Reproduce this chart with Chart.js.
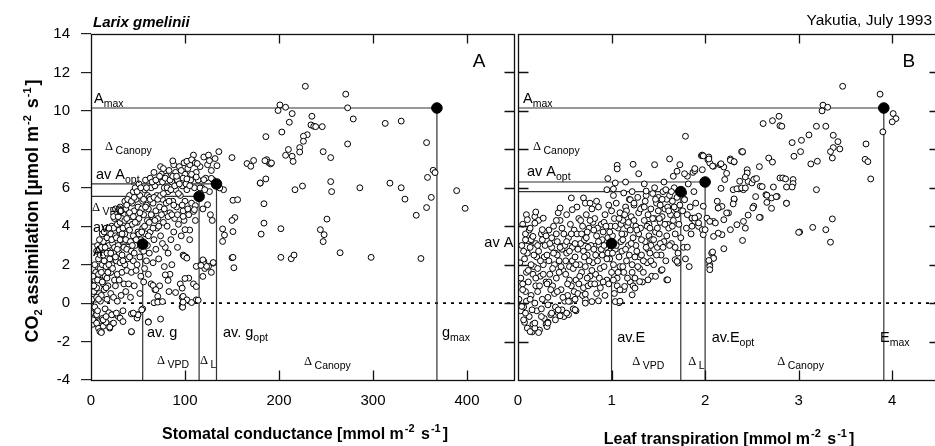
<!DOCTYPE html>
<html>
<head>
<meta charset="utf-8">
<script src="https://cdn.jsdelivr.net/npm/chart.js@4"></script>
<style>
  body { margin: 0; width: 935px; height: 446px; overflow: hidden; background: #fff; position: relative;
         font-family: "Liberation Sans", Arial, sans-serif; color: #000; }
  canvas { position: absolute; top: 0; }
  #cA { left: 0; }
  #cB { left: 470px; }
  .t { position: absolute; white-space: nowrap; line-height: 20px; }
  .t sup, .t sub { font-size: 11px; position: relative; vertical-align: baseline; line-height: 0; }
  .t sup { top: -7px; margin: 0 2px 0 1px; }
  .t sub { top: 4px; }
</style>
</head>
<body>
<canvas id="cA" width="540" height="446"></canvas>
<canvas id="cB" width="480" height="446"></canvas>

<div class="t" style="left:93px;top:12px;font-size:15px;font-weight:bold;font-style:italic;">Larix gmelinii</div>
<div class="t" style="right:3px;top:10px;font-size:15.5px;">Yakutia, July 1993</div>
<div class="t" style="left:305px;top:424px;font-size:16px;font-weight:bold;transform:translateX(-50%);">Stomatal conductance [mmol m<sup>-2</sup> s<sup>-1</sup>]</div>
<div class="t" style="left:729px;top:429px;font-size:16px;font-weight:bold;transform:translateX(-50%);">Leaf transpiration [mmol m<sup>-2</sup> s<sup>-1</sup>]</div>
<div class="t" style="left:-138px;top:201px;width:340px;text-align:center;font-size:18px;font-weight:bold;transform:rotate(-90deg);">CO<sub>2</sub> assimilation [µmol m<sup>-2</sup> s<sup>-1</sup>]</div>

<script>
// axis ticks
const condTicks = [0, 100, 200, 300, 400];
const transTicks = [0, 1, 2, 3, 4];
const assimTicks = [-4, -2, 0, 2, 4, 6, 8, 10, 12, 14];

// Panel A: stomatal conductance (mmol m-2 s-1) vs CO2 assimilation
const stomatalPts = [
  [0,0.1],[1,-0.3],[2,0.4],[3,-0.8],[1,0.9],[4,1.2],[2,-1.1],[5,0.2],[3,0.6],[0,-0.5],[4,-0.2],[5,1.6],[2,1.4],[6,-0.6],[1,0.2],
  [6,0.8],[7,1.9],[8,-1.3],[7,-0.4],[9,0.5],[8,2.3],[9,1.2],[6,2.7],[10,-0.9],[10,0.1],[8,1.5],[7,3.0],[9,2.8],[10,1.8],
  [11,-1.5],[12,-0.8],[11,0.4],[13,1.0],[12,2.0],[14,2.6],[13,3.2],[11,2.9],[15,-0.3],[14,0.7],[15,1.4],[12,3.6],[14,2.2],[13,-1.2],
  [16,-1.0],[17,0.2],[16,1.9],[18,2.7],[17,3.4],[19,3.0],[18,0.9],[20,1.6],[19,-0.5],[16,3.9],[20,2.3],[18,3.7],[17,1.3],[20,-1.3],
  [21,0.5],[22,2.0],[23,3.1],[21,3.6],[24,2.6],[22,4.0],[25,1.2],[23,-0.6],[24,3.9],[25,2.9],[21,1.6],[22,-1.1],[24,0.3],[25,4.4],
  [26,3.5],[27,2.2],[28,4.1],[26,0.9],[29,3.0],[27,4.6],[30,2.6],[28,1.5],[30,3.8],[29,-0.7],[26,4.9],[28,0.1],[30,1.2],
  [31,4.2],[32,3.3],[33,2.5],[31,5.0],[34,3.9],[35,4.6],[33,1.6],[32,0.4],[34,-0.4],[35,2.9],[31,2.1],[33,4.4],[35,1.0],
  [36,3.6],[37,4.9],[38,2.8],[39,4.0],[36,5.3],[40,3.2],[38,1.7],[37,0.6],[40,4.6],[39,2.3],[38,5.1],[40,1.0],[36,2.0],
  [41,3.8],[42,4.5],[43,2.7],[44,5.2],[41,5.6],[45,3.5],[43,1.6],[42,0.3],[44,4.1],[45,2.2],[41,2.4],[45,5.8],[43,-1.5],
  [46,4.8],[47,3.0],[48,5.4],[49,4.2],[46,2.6],[50,3.7],[48,1.7],[47,6.0],[50,5.0],[49,2.0],[46,0.9],[50,-0.6],
  [51,4.4],[52,5.6],[53,3.3],[54,4.9],[52,2.4],[55,5.3],[51,6.2],[53,1.4],[55,3.9],[54,2.8],[52,0.5],[55,-0.3],
  [56,4.6],[57,5.9],[58,3.6],[59,5.1],[56,2.7],[60,4.3],[58,6.4],[57,1.8],[60,5.6],[59,2.2],[56,1.1],[60,3.0],
  [61,4.9],[62,5.5],[63,3.7],[64,6.0],[62,2.6],[65,4.5],[63,6.5],[61,1.5],[66,5.2],[67,3.3],[68,6.1],[69,4.8],[70,5.6],[66,2.1],[68,0.7],[70,3.9],[67,6.8],[64,1.0],[69,2.8],
  [71,4.4],[72,6.3],[73,5.0],[74,3.5],[75,6.7],[76,5.4],[77,4.2],[78,6.0],[79,2.9],[80,5.2],[72,2.3],[74,7.1],[76,3.1],[78,1.9],[80,6.6],[73,0.9],[77,7.0],[79,4.7],
  [81,4.0],[82,5.8],[83,6.9],[84,4.7],[85,3.3],[86,6.3],[87,5.3],[88,7.2],[89,4.4],[90,5.9],[82,2.6],[84,1.5],[86,2.0],[88,3.7],[90,6.8],[83,0.6],[87,7.4],
  [91,5.0],[92,6.4],[93,4.1],[94,7.1],[95,5.6],[96,3.5],[97,6.1],[98,4.8],[99,7.3],[100,5.3],[92,2.9],[95,1.0],[98,2.5],[100,6.7],[97,0.3],
  [102,5.9],[103,7.0],[104,4.6],[106,6.4],[107,5.2],[108,7.4],[110,6.0],[111,4.3],[112,6.8],[105,3.8],[113,5.6],[109,7.7],[114,6.4],
  [116,7.1],[118,6.0],[120,7.6],[122,6.5],[119,4.9],[124,7.2],[126,5.8],[128,6.9],[125,7.7],[117,2.0],[121,1.8],[128,1.6],[130,6.4],[127,4.6],
  [3,0.9],[4,2.0],[6,0.3],[7,1.2],[8,0.2],[9,3.3],[10,2.5],[11,1.6],[12,1.1],[13,2.5],[14,3.7],[15,2.9],[16,0.8],[17,2.6],[18,1.6],[19,3.9],[19,2.0],
  [21,2.6],[22,3.3],[23,1.8],[24,4.5],[26,2.4],[27,3.4],[28,2.8],[29,4.5],[30,4.9],[31,3.3],[32,4.8],[33,3.6],[34,2.2],[36,4.3],[37,3.3],[38,4.4],
  [39,5.4],[41,4.7],[42,3.2],[43,5.3],[44,3.0],[45,4.5],[46,5.5],[47,4.2],[48,3.3],[49,5.8],[51,3.6],[52,4.7],[53,6.0],[54,3.7],[56,5.4],[57,4.0],
  [58,5.0],[59,6.0],[61,3.5],[62,4.2],[63,5.4],[64,4.6],[65,6.3],[66,3.9],[67,5.5],[68,4.3],[69,6.4],[71,5.4],[72,4.0],[73,6.6],[74,5.6],[75,4.6],
  [76,6.3],[77,5.7],[78,4.9],[79,6.5],[81,6.0],[82,4.5],[83,5.3],[84,6.4],[85,5.9],[86,4.6],[87,6.6],[88,5.1],[89,6.1],[91,6.6],[92,4.6],[93,5.7],
  [94,6.2],[96,6.9],[97,5.1],[98,6.5],[99,4.3],[101,6.2],[103,4.9],[105,7.2],[107,6.7],
  [102,7.38],[107,7.46],[111,7.29],[113,7.26],[126,7.41],[132,7.52],[136,7.88],[134,7.15],[128,6.49],[120,6.42],[112,6.56],[102,6.46],
  [105,6.11],[116,5.99],[121,5.9],[141,5.9],[124,5.12],[109,4.77],[98,4.51],[105,3.3],[100,3.82],[120,2.17],[125,1.91],[130,2.08],
  [112,1.91],[119,1.39],[109,1.0],[104,1.3],[97,0.78],[98,0.35],[102,0.17],[112,0.17],[97,-0.17],
  [111,5.07],[110,4.86],[101,2.4],[99,2.44],[102,2.34],[119,2.25],[121,2.0],[123,1.91],[117,1.96],[130,2.11],[100,1.28],[112,0.86],
  [107,0.03],[114,0.15],[97,-0.2],[90,0.55],[79,1.47],[82,1.18],[66,0.92],[69,0.7],[71,0.35],[72,0.09],[61,-0.97],[49,-0.64],[43,-0.56],
  [43,-1.48],[61,-0.99],[74,-0.83],[97.5,-0.21],[49,-0.78],[50,-0.61],[54,-0.35],[45,-0.52],[9.5,-1.48],[11,-1.53],[20,-1.25],[24,-1.04],
  [2,-0.87],[6,-1.04],[13,-0.87],[16,-0.7],[22,-0.61],[27,-0.52],[31,-0.78],[34,-0.96],[67,0.02],[71,0.05],[76,0.08],[98,0.05],
  [228,11.28],[271,10.87],[273,10.16],[201,10.31],[199,10.02],[207,10.19],[214,9.86],[211,9.41],[235,9.72],[234,9.27],[237,9.2],[239,9.18],
  [246,9.18],[279,9.58],[313,9.35],[330,9.47],[186,8.66],[203,8.9],[230,8.76],[226,8.68],[226,8.42],[222,8.09],[222,7.86],[210,7.99],
  [207,7.69],[214,7.64],[215,7.37],[247,7.88],[255,7.57],[273,8.28],[357,8.35],[364,6.91],[366,6.79],[358,6.54],[362,5.5],[357,4.97],
  [346,4.57],[389,5.85],[398,4.93],[318,6.24],[330,6.0],[334,5.41],[286,6.0],[256,5.8],[255,6.32],[251,4.37],[225,6.09],[217,5.9],
  [180,6.24],[186,6.46],[184,4.16],[181,3.59],[202,3.87],[202,2.38],[213,2.31],[216,2.5],[244,3.82],[248,3.56],[247,3.2],[265,2.62],
  [298,2.38],[351,2.32],[150,7.57],[166,7.26],[170,7.12],[173,7.42],[187,7.46],[189,7.31],[191,7.24],[151,5.35],[156,5.38],[153,4.45],
  [150,4.3],[140,3.86],[142,3.54],[140,3.21],[151,3.72],[152,1.84],[150,2.36],[129,4.3],[137,5.99],[184,5.17],[185,7.41],[192,7.29],
  [180,6.25],[151,2.38]
];

// Panel B: leaf transpiration (mmol m-2 s-1) vs CO2 assimilation
const transpPts = [
  [0.01,0.2],[0.03,-0.4],[0.05,1.0],[0.02,2.1],[0.07,-1.0],[0.08,0.6],[0.04,3.0],[0.09,1.6],[0.06,-0.2],[0.1,2.6],[0.08,3.6],[0.03,1.3],[0.1,-1.3],[0.05,4.1],[0.09,0.1],[0.07,2.3],
  [0.11,1.1],[0.12,-0.7],[0.13,2.9],[0.14,0.4],[0.15,3.4],[0.16,-1.1],[0.17,1.9],[0.18,4.5],[0.19,0.9],[0.2,2.4],[0.12,3.8],[0.15,-1.5],[0.18,0.0],[0.14,2.0],[0.2,-0.4],[0.16,1.5],[0.19,3.1],
  [0.21,0.6],[0.22,2.7],[0.23,-1.4],[0.24,1.4],[0.25,3.6],[0.26,0.2],[0.27,2.0],[0.28,-0.8],[0.29,3.0],[0.3,1.1],[0.22,4.3],[0.25,-0.3],[0.28,2.4],[0.21,1.8],[0.3,-1.1],[0.26,3.3],
  [0.31,2.5],[0.32,0.3],[0.33,3.8],[0.34,1.5],[0.35,-0.6],[0.36,2.9],[0.37,0.9],[0.38,4.0],[0.39,2.0],[0.4,-0.2],[0.33,1.1],[0.36,3.4],[0.39,0.5],[0.32,-1.0],[0.4,2.6],
  [0.41,1.3],[0.42,3.2],[0.43,-0.5],[0.44,2.2],[0.45,4.3],[0.46,0.7],[0.47,2.8],[0.48,1.7],[0.49,3.6],[0.5,0.1],[0.43,4.7],[0.46,1.9],[0.49,-0.7],[0.42,2.5],[0.5,3.0],
  [0.51,1.5],[0.52,2.6],[0.53,0.4],[0.54,3.4],[0.55,1.9],[0.56,4.1],[0.57,0.9],[0.58,2.9],[0.59,-0.3],[0.6,3.8],[0.52,4.6],[0.55,1.2],[0.58,2.2],[0.6,0.6],[0.54,-0.6],
  [0.61,2.4],[0.62,1.2],[0.63,3.6],[0.64,0.5],[0.65,4.4],[0.66,2.0],[0.67,3.1],[0.68,1.6],[0.69,4.0],[0.7,2.7],[0.62,-0.4],[0.65,1.0],[0.68,3.6],[0.7,0.8],[0.63,5.0],
  [0.71,3.3],[0.72,1.9],[0.73,4.6],[0.74,2.5],[0.75,0.9],[0.76,3.9],[0.77,1.4],[0.78,3.0],[0.79,4.9],[0.8,2.1],[0.72,0.2],[0.75,2.9],[0.78,1.0],[0.8,4.2],[0.74,3.7],
  [0.81,2.8],[0.82,4.4],[0.83,1.5],[0.84,3.5],[0.85,2.2],[0.86,5.0],[0.87,3.0],[0.88,0.8],[0.89,4.1],[0.9,2.5],[0.82,1.0],[0.85,3.9],[0.88,1.8],[0.9,3.3],[0.84,5.3],
  [0.91,3.7],[0.92,1.9],[0.93,4.6],[0.94,2.9],[0.95,1.2],[0.96,3.4],[0.97,5.1],[0.98,2.3],[0.99,4.0],[1.0,1.6],[0.93,0.4],[0.96,2.6],[0.99,3.0],[0.92,4.2],[1.0,4.8],
  [1.01,3.5],[1.02,2.0],[1.03,4.4],[1.04,2.8],[1.05,5.2],[1.06,1.3],[1.07,3.9],[1.08,2.4],[1.09,4.7],[1.1,3.2],[1.03,0.5],[1.06,0.9],[1.09,1.9],[1.02,5.6],[1.1,4.1],
  [1.11,2.7],[1.12,4.3],[1.13,1.6],[1.14,3.6],[1.15,5.0],[1.16,2.2],[1.17,4.0],[1.18,3.0],[1.19,5.4],[1.2,1.1],[1.13,0.7],[1.16,4.8],[1.19,2.5],[1.12,3.3],[1.2,3.8],
  [1.21,4.5],[1.22,2.0],[1.23,3.4],[1.24,5.1],[1.25,1.3],[1.26,4.0],[1.27,2.7],[1.28,5.5],[1.29,3.6],[1.3,1.8],[1.23,0.9],[1.26,3.0],[1.29,4.7],[1.22,5.8],[1.3,2.4],
  [1.31,3.9],[1.32,2.5],[1.33,5.0],[1.34,1.6],[1.35,4.3],[1.36,3.2],[1.37,5.6],[1.38,2.1],[1.39,4.6],[1.4,3.5],[1.33,1.1],[1.36,5.3],[1.39,2.8],[1.35,6.2],[1.4,4.1],
  [1.41,2.6],[1.42,4.9],[1.43,3.3],[1.44,5.7],[1.45,2.0],[1.46,4.4],[1.47,3.7],[1.48,5.2],[1.49,2.9],[1.5,4.8],[1.43,1.4],[1.46,6.0],[1.49,3.9],[1.42,3.0],[1.5,5.5],
  [1.51,3.6],[1.52,5.1],[1.53,2.5],[1.54,4.5],[1.55,5.8],[1.56,3.2],[1.57,4.9],[1.58,2.2],[1.59,5.4],[1.6,4.1],[1.53,1.7],[1.56,6.3],[1.59,3.5],[1.52,4.2],[1.6,5.0],
  [1.61,3.9],[1.62,5.6],[1.63,4.6],[1.64,3.1],[1.65,5.3],[1.66,4.3],[1.67,6.0],[1.68,3.6],[1.69,4.9],[1.7,5.5],[1.72,4.1],[1.73,5.1],[1.71,2.6],[1.74,3.4],[1.66,6.6],[1.7,4.6],
  [1.76,4.8],[1.78,5.4],[1.8,3.9],[1.82,6.2],[1.84,5.0],[1.86,4.4],[1.88,5.8],[1.77,2.9],[1.79,2.3],[1.81,6.6],[1.85,3.6],[1.9,5.2],[1.87,6.8],[1.83,1.9],
  [0.05,0.7],[0.06,2.7],[0.11,1.7],[0.13,0.2],[0.14,3.3],[0.17,2.5],[0.19,1.3],[0.21,3.0],[0.23,0.9],[0.24,2.2],[0.27,1.5],[0.28,3.7],[0.31,1.0],
  [0.33,2.2],[0.34,3.1],[0.35,0.7],[0.37,1.8],[0.38,2.6],[0.41,3.6],[0.42,0.6],[0.44,1.6],[0.45,2.9],[0.47,3.9],[0.48,0.3],[0.51,2.2],[0.52,3.2],
  [0.53,1.0],[0.55,2.7],[0.56,0.1],[0.57,3.6],[0.59,1.8],[0.61,3.1],[0.62,2.0],[0.64,2.8],[0.66,1.4],[0.67,4.3],[0.69,0.4],[0.71,2.4],[0.73,3.4],
  [0.74,1.3],[0.76,2.2],[0.77,4.3],[0.79,1.7],[0.81,3.8],[0.83,2.5],[0.84,0.5],[0.86,3.2],[0.87,1.3],[0.89,2.8],[0.91,1.1],[0.92,3.0],[0.94,4.0],
  [0.95,2.3],[0.97,1.0],[0.98,3.7],[1.01,2.6],[1.02,1.2],[1.04,4.0],[1.05,3.0],[1.07,1.6],[1.08,4.4],[1.11,3.6],[1.12,1.9],[1.14,4.6],[1.15,2.8],
  [1.17,1.3],[1.18,4.2],[1.21,3.1],[1.22,1.6],[1.24,4.3],[1.25,2.4],[1.27,3.8],[1.28,1.9],[1.31,4.9],[1.32,3.3],[1.34,2.2],[1.35,5.0],[1.37,2.9],
  [1.38,4.0],[1.41,3.9],[1.42,2.2],[1.44,4.4],[1.45,3.3],[1.47,5.4],[1.48,2.5],[1.51,4.4],[1.52,3.1],[1.54,5.4],[1.55,2.9],[1.57,4.1],[1.58,5.9],
  [1.61,4.8],[1.62,3.0],[1.64,5.8],[1.65,4.0],[1.67,5.0],[1.68,2.9],
  [0.13,-1.48],[0.22,-1.53],[0.18,-1.3],[0.31,-1.22],[0.32,-1.04],[0.4,-0.87],[0.45,-0.66],[0.52,-0.52],[0.61,-0.35],[0.06,-0.87],[0.08,-0.52],
  [0.04,-0.17],[0.15,-0.35],[0.25,-0.7],[0.36,-0.52],[0.47,-0.35],[0.72,0.0],[0.79,0.08],[0.86,0.12],[1.08,0.02],
  [1.04,0.08],[1.09,0.1],[1.22,0.43],[1.25,0.78],[1.3,1.12],[1.39,1.21],[1.47,1.39],[1.54,1.74],[1.59,1.21],[1.68,2.26],[1.71,2.08],[1.09,0.69],
  [1.14,0.87],[0.61,0.2],[0.72,0.47],[0.43,-0.35],[0.32,-0.09],[0.54,0.09],[0.18,-1.04],
  [1.06,7.17],[1.06,6.98],[1.23,7.22],[1.46,7.2],[1.62,7.5],[1.73,7.2],[1.78,6.73],[1.7,6.86],[1.96,7.67],[2.03,7.46],[2.05,7.29],[2.09,7.12],
  [2.16,7.2],[2.2,7.08],[2.28,7.41],[2.31,7.34],[2.4,7.86],[1.97,6.94],[1.89,6.89],[1.29,6.73],[1.15,6.3],[1.04,6.25],[0.96,6.48],[0.95,5.9],
  [1.02,5.94],[1.13,5.73],[1.2,5.38],[1.24,5.2],[1.37,5.83],[0.57,5.47],[0.7,5.47],[0.72,5.2],[0.77,5.2],[0.45,4.95],[0.58,4.86],[0.41,4.3],
  [0.27,4.42],[0.19,4.74],[0.09,4.6],[0.1,4.34],[0.18,4.16],[0.26,3.82],[0.13,3.9],[0.08,3.29],[0.3,3.5],[0.16,3.47],
  [1.77,5.73],[1.78,5.38],[1.81,4.6],[1.86,4.42],[1.89,4.25],[1.93,3.99],[1.97,3.82],[2.02,4.42],[2.09,4.25],[2.14,4.95],[2.18,5.03],[2.25,4.69],
  [2.31,5.38],[2.36,5.94],[2.41,5.9],[2.46,6.33],[2.5,6.25],[2.53,6.46],[2.59,6.08],[2.65,5.64],[2.71,5.47],[2.77,5.55],[2.87,5.2],[1.81,2.91],
  [1.7,2.17],[1.6,1.21],[2.07,2.6],[2.05,2.0],[2.09,2.34],[3.01,3.7],[1.79,8.68],[1.97,7.7],[2.04,7.6],[2.39,7.88],[2.27,7.5],
  [1.89,7.0],[1.98,7.66],[2.04,7.5],[2.08,7.13],[2.17,7.25],[2.27,7.43],[2.31,7.36],[2.23,6.75],[2.21,6.43],[2.17,5.97],[2.3,5.9],[2.34,5.95],
  [2.39,5.99],[2.43,5.99],[2.45,6.94],[2.45,6.77],[2.52,6.43],[2.55,6.48],[2.43,6.56],[2.37,6.34],[2.31,5.42],[2.3,5.16],[2.23,4.69],[2.14,4.95],
  [2.13,5.3],[1.98,5.04],[1.93,4.52],[1.89,4.43],[1.86,4.0],[2.05,4.25],[2.11,4.17],[2.2,4.34],[2.27,3.82],[2.34,4.08],[2.41,4.25],[2.43,3.9],
  [2.52,5.04],[2.59,4.46],[2.18,3.56],[2.14,3.64],[2.09,3.47],[1.98,3.56],[2.0,3.82],[1.93,4.17],
  [3.47,11.28],[3.87,10.87],[3.26,10.3],[3.25,10.0],[3.31,10.19],[4.01,9.86],[4.04,9.6],[4.0,9.43],[3.9,8.91],[2.62,9.34],[2.72,9.49],[2.79,9.72],
  [2.8,9.23],[2.82,9.2],[3.19,9.2],[3.29,9.2],[3.11,8.75],[3.03,8.47],[2.93,8.35],[3.37,8.73],[3.42,8.4],[3.44,8.02],[3.37,8.09],[3.34,7.88],
  [3.36,7.55],[3.02,7.88],[2.95,7.64],[3.13,7.24],[3.2,7.38],[3.72,8.28],[3.71,7.48],[3.74,7.36],[3.77,6.46],[2.4,7.88],[2.68,7.55],[2.72,7.34],
  [2.58,7.1],[3.19,5.9],[2.87,5.19],[3.0,3.68],[3.15,3.94],[3.29,3.82],[3.36,4.38],[3.34,3.17],
  [2.8,6.51],[2.83,6.51],[2.86,6.46],[2.94,6.43],[2.94,6.22],[2.93,6.04],[2.87,6.04],[2.76,5.54],[2.66,5.61],[2.71,4.93],[2.66,5.24],[2.58,4.46],
  [2.54,5.54],[2.73,6.04],[2.61,6.06],[2.51,4.95],[2.46,4.58],[2.4,3.26],[2.2,2.83],[2.08,2.66],[2.09,2.33],[2.04,2.22],[2.05,1.91],[2.05,1.74]
];

// filled reference points and their guide lines
const markersA = [[55,3.07],[115,5.55],[133.5,6.2],[368,10.15]];
const markersB = [[1.0,3.1],[1.74,5.8],[2.0,6.3],[3.91,10.15]];
const guidesA = [
  [[0,10.15],[368,10.15],[368,-4]],
  [[0,6.2],[133.5,6.2],[133.5,-4]],
  [[0,5.55],[115,5.55],[115,-4]],
  [[0,3.07],[55,3.07],[55,-4]]
];
const guidesB = [
  [[0,10.15],[3.91,10.15],[3.91,-4]],
  [[0,6.3],[2.0,6.3],[2.0,-4]],
  [[0,5.8],[1.74,5.8],[1.74,-4]],
  [[0,3.1],[1.0,3.1],[1.0,-4]]
];

// annotation texts (main text + subscript), anchored in data coordinates
const notesA = [
  { x: 3.2,   y: 10.4,  t: 'A', s: 'max' },
  { x: 14.9,  y: 7.98,  t: 'Δ', s: 'Canopy', greek: true },
  { x: 5.3,   y: 6.46,  t: 'av A', s: 'opt' },
  { x: 1.0,   y: 4.77,  t: 'Δ', s: 'VPD', greek: true },
  { x: 2.0,   y: 3.71,  t: 'av', s: '' },
  { x: 2.0,   y: 2.45,  t: 'A', s: '' },
  { x: 59.6,  y: -1.75, t: 'av. g', s: '' },
  { x: 70.2,  y: -3.17, t: 'Δ', s: 'VPD', greek: true },
  { x: 116,   y: -3.17, t: 'Δ', s: 'L', greek: true },
  { x: 140.4, y: -1.75, t: 'av. g', s: 'opt' },
  { x: 226.6, y: -3.2,  t: 'Δ', s: 'Canopy', greek: true },
  { x: 373.4, y: -1.75, t: 'g', s: 'max' },
  { x: 406,   y: 12.3,  t: 'A', s: '', big: true }
];
const notesB = [
  { x: 0.053, y: 10.4,  t: 'A', s: 'max' },
  { x: 0.16,  y: 7.98,  t: 'Δ', s: 'Canopy', greek: true },
  { x: 0.096, y: 6.61,  t: 'av A', s: 'opt' },
  { x: -0.36, y: 2.9,   t: 'av A', s: '' },
  { x: 1.06,  y: -2.0,  t: 'av.E', s: '' },
  { x: 1.22,  y: -3.2,  t: 'Δ', s: 'VPD', greek: true },
  { x: 1.82,  y: -3.2,  t: 'Δ', s: 'L', greek: true },
  { x: 2.07,  y: -2.0,  t: 'av.E', s: 'opt' },
  { x: 2.77,  y: -3.2,  t: 'Δ', s: 'Canopy', greek: true },
  { x: 3.87,  y: -2.0,  t: 'E', s: 'max' },
  { x: 4.11,  y: 12.3,  t: 'B', s: '', big: true }
];

const SANS = "'Liberation Sans', Arial, sans-serif";
const SERIF = "'Liberation Serif', 'Times New Roman', serif";

const toXY = arr => arr.map(p => ({ x: p[0], y: p[1] }));

// frame with inward tick marks
const framePlugin = {
  id: 'frame',
  afterDatasetsDraw(chart, args, opts) {
    const { ctx, chartArea: a } = chart;
    const xs = chart.scales.x, ys = chart.scales.y;
    const L = Math.round(a.left) + 0.5, R = Math.round(a.right) + 0.5;
    const T = Math.round(a.top) + 0.5, B = Math.round(a.bottom) + 0.5;
    ctx.save();
    ctx.strokeStyle = '#111';
    ctx.lineWidth = 1.3;
    ctx.strokeRect(L, T, R - L, B - T);
    ctx.beginPath();
    opts.xTicks.forEach(v => {
      const px = Math.round(xs.getPixelForValue(v)) + 0.5;
      if (px < L + 2 || px > R - 2) return;
      ctx.moveTo(px, B); ctx.lineTo(px, B - 10);
      ctx.moveTo(px, T); ctx.lineTo(px, T + 9);
    });
    assimTicks.forEach(v => {
      const py = Math.round(ys.getPixelForValue(v)) + 0.5;
      if (py < T + 2 || py > B - 2) return;
      if (opts.leftInside) { ctx.moveTo(L, py); ctx.lineTo(L + 10, py); }
      ctx.moveTo(R, py); ctx.lineTo(R - 10, py);
    });
    ctx.stroke();
    ctx.restore();
  }
};

const notePlugin = {
  id: 'notes',
  afterDraw(chart, args, opts) {
    const { ctx } = chart;
    const xs = chart.scales.x, ys = chart.scales.y;
    ctx.save();
    ctx.fillStyle = '#000';
    ctx.textBaseline = 'alphabetic';
    ctx.textAlign = 'left';
    opts.items.forEach(n => {
      let px = xs.getPixelForValue(n.x);
      const py = ys.getPixelForValue(n.y);
      ctx.font = n.big ? `19px ${SANS}` : (n.greek ? `12.5px ${SERIF}` : `14.5px ${SANS}`);
      ctx.fillText(n.t, px, py);
      px += ctx.measureText(n.t).width + (n.greek ? 2.5 : 0);
      if (n.s) {
        ctx.font = `10.5px ${SANS}`;
        ctx.fillText(n.s, px, py + 4);
      }
    });
    ctx.restore();
  }
};

function makePanel(id, o) {
  const datasets = [
    { type: 'scatter', data: toXY(o.markers), pointRadius: 5.3, pointBackgroundColor: '#000',
      pointBorderColor: '#000', pointBorderWidth: 1, order: 0 },
    { type: 'scatter', data: toXY(o.points), pointRadius: 2.95, pointBorderWidth: 1,
      pointBackgroundColor: '#fff', pointBorderColor: '#000', order: 1 }
  ];
  o.guides.forEach(g => datasets.push({
    type: 'line', data: toXY(g), borderColor: '#333', borderWidth: 1.2,
    pointRadius: 0, fill: false, tension: 0, order: 2
  }));
  datasets.push({
    type: 'line', data: toXY([[o.xMin, 0], [o.xMax, 0]]), borderColor: '#000', borderWidth: 1.6,
    borderDash: [3, 5], pointRadius: 0, fill: false, order: 3
  });

  return new Chart(document.getElementById(id), {
    type: 'scatter',
    data: { datasets },
    options: {
      responsive: false,
      animation: false,
      events: [],
      layout: { padding: o.padding },
      plugins: {
        legend: { display: false },
        tooltip: { enabled: false },
        frame: { xTicks: o.xTicks, leftInside: o.leftInside },
        notes: { items: o.notes }
      },
      scales: {
        x: {
          type: 'linear', min: o.xMin, max: o.xMax,
          afterBuildTicks: s => { s.ticks = o.xTicks.map(v => ({ value: v })); },
          afterFit: s => { s.height = 66; },
          grid: { display: false, drawTicks: false },
          border: { display: false },
          ticks: { padding: 12, color: '#000', font: { family: SANS, size: 15 } }
        },
        y: {
          type: 'linear', min: -4, max: 14, display: o.showY,
          afterBuildTicks: s => { s.ticks = assimTicks.map(v => ({ value: v })); },
          afterFit: s => { s.width = o.showY ? 91 : 0; },
          grid: { drawOnChartArea: false, drawTicks: true, tickLength: 10, color: '#222', lineWidth: 1.2 },
          border: { display: false },
          ticks: { padding: 11, color: '#000', font: { family: SANS, size: 15 } }
        }
      }
    },
    plugins: [framePlugin, notePlugin]
  });
}

makePanel('cA', {
  points: stomatalPts, markers: markersA, guides: guidesA, notes: notesA,
  xMin: 0, xMax: 450, xTicks: condTicks, showY: true, leftInside: false,
  padding: { top: 34, right: 26, left: 0, bottom: 0 }
});
makePanel('cB', {
  points: transpPts, markers: markersB, guides: guidesB, notes: notesB,
  xMin: 0, xMax: 4.5, xTicks: transTicks, showY: false, leftInside: true,
  padding: { top: 34, right: 11, left: 48, bottom: 0 }
});
</script>
</body>
</html>
